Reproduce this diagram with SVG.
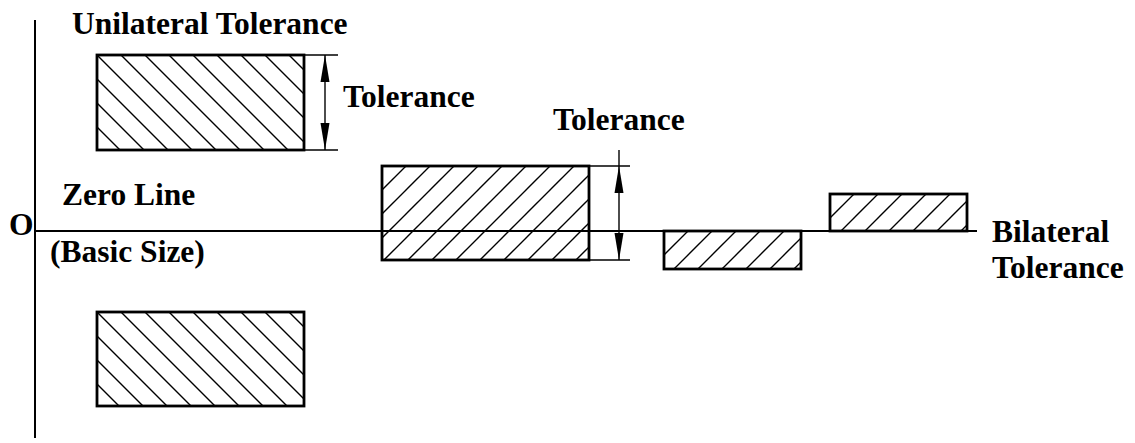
<svg xmlns="http://www.w3.org/2000/svg" width="1135" height="443" viewBox="0 0 1135 443">
  <style>
    .lbl { font-family: "Liberation Serif", "Times New Roman", serif; font-weight: bold; font-size: 31.5px; fill: #000; }
    .box { stroke: #000; stroke-width: 2.8; }
    .hatch { stroke: #000; stroke-width: 1.4; fill: none; }
    .axis { stroke: #000; stroke-width: 2; fill: none; }
    .ext { stroke: #000; stroke-width: 1.6; fill: none; }
    .dim { stroke: #000; stroke-width: 1.4; fill: none; }
    .arrowhead { fill: #000; stroke: none; }
  </style>
  <defs>
    <pattern id="hb1" patternUnits="userSpaceOnUse" x="97" y="55" width="24" height="24">
      <path class="hatch" d="M-6,-6 L30,30 M-6,18 L6,30 M18,-6 L30,6"/>
    </pattern>
    <pattern id="hb5" patternUnits="userSpaceOnUse" x="97" y="312" width="24" height="24">
      <path class="hatch" d="M-6,-6 L30,30 M-6,18 L6,30 M18,-6 L30,6"/>
    </pattern>
    <pattern id="hf2" patternUnits="userSpaceOnUse" x="382" y="166" width="24" height="24">
      <path class="hatch" d="M-6,30 L30,-6 M-6,6 L6,-6 M18,30 L30,18"/>
    </pattern>
    <pattern id="hf3" patternUnits="userSpaceOnUse" x="664" y="231" width="24" height="24">
      <path class="hatch" d="M-6,30 L30,-6 M-6,6 L6,-6 M18,30 L30,18"/>
    </pattern>
    <pattern id="hf4" patternUnits="userSpaceOnUse" x="830" y="194" width="24" height="24">
      <path class="hatch" d="M-6,30 L30,-6 M-6,6 L6,-6 M18,30 L30,18"/>
    </pattern>
  </defs>

  <g id="connectors">
    <line class="axis" x1="35" y1="20" x2="35" y2="438"/>
    <line class="axis" x1="35" y1="231" x2="977" y2="231"/>
    <!-- unilateral tolerance dimension -->
    <line class="ext" x1="304" y1="55" x2="338" y2="55"/>
    <line class="ext" x1="304" y1="150" x2="338" y2="150"/>
    <line class="dim" x1="325" y1="55" x2="325" y2="150"/>
    <path class="arrowhead" d="M325,55 L329.5,82 L320.5,82 Z"/>
    <path class="arrowhead" d="M325,150 L329.5,123 L320.5,123 Z"/>
    <!-- tolerance dimension for middle box -->
    <line class="ext" x1="589" y1="166" x2="630" y2="166"/>
    <line class="ext" x1="589" y1="260" x2="630" y2="260"/>
    <line class="dim" x1="619" y1="150" x2="619" y2="260"/>
    <path class="arrowhead" d="M619,166 L623.5,193 L614.5,193 Z"/>
    <path class="arrowhead" d="M619,260 L623.5,233 L614.5,233 Z"/>
  </g>

  <g id="box-unilateral-upper">
    <rect class="box" x="97" y="55" width="207" height="95" fill="url(#hb1)"/>
  </g>
  <g id="box-unilateral-lower">
    <rect class="box" x="97" y="312" width="207" height="94" fill="url(#hb5)"/>
  </g>
  <g id="box-middle">
    <rect class="box" x="382" y="166" width="207" height="94" fill="url(#hf2)"/>
  </g>
  <g id="box-bilateral-below">
    <rect class="box" x="664" y="231" width="137" height="38" fill="url(#hf3)"/>
  </g>
  <g id="box-bilateral-above">
    <rect class="box" x="830" y="194" width="137" height="37" fill="url(#hf4)"/>
  </g>

  <g id="labels">
    <text class="lbl" x="72" y="34">Unilateral Tolerance</text>
    <text class="lbl" x="343" y="107">Tolerance</text>
    <text class="lbl" x="553" y="130">Tolerance</text>
    <text class="lbl" x="62" y="205">Zero Line</text>
    <text class="lbl" x="9" y="235">O</text>
    <text class="lbl" x="50" y="262">(Basic Size)</text>
    <text class="lbl" x="992" y="242">Bilateral</text>
    <text class="lbl" x="992" y="278">Tolerance</text>
  </g>
</svg>
